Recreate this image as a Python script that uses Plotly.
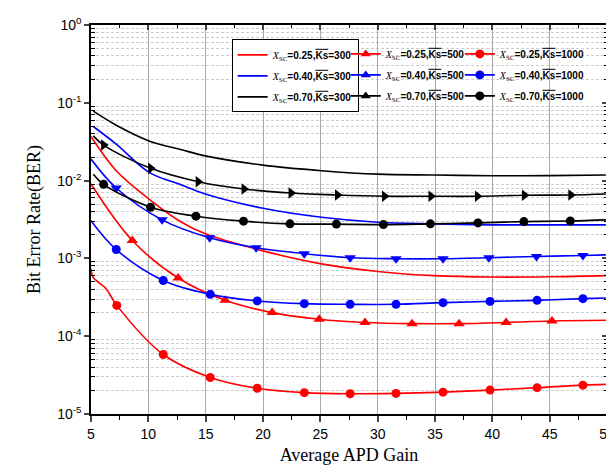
import plotly.graph_objects as go

# ---------------- data ----------------
# X_sc = 0.70
blk300_x = [5.2, 7.2, 10.06, 12.9, 14.97, 20.0, 25.1, 30.0, 35.0, 39.9, 45.0, 49.9]
blk300_y = [0.078, 0.0515, 0.0324, 0.0249, 0.0208, 0.0158, 0.0134, 0.0121, 0.0118, 0.01154, 0.0116, 0.0118]

blk500_x = [5.2, 6.1, 10.2, 14.35, 18.35, 22.45, 26.5, 30.6, 34.65, 38.7, 42.8, 46.85, 49.9]
blk500_y = [0.0376, 0.0286, 0.01436, 0.00968, 0.0078, 0.00693, 0.00653, 0.00629, 0.00629, 0.00629, 0.00648, 0.00653, 0.00673]
blk500_mx = blk500_x[1:-1]
blk500_my = blk500_y[1:-1]

blk1000_x = [5.2, 6.1, 10.2, 14.15, 18.3, 22.35, 26.4, 30.5, 34.6, 38.75, 42.75, 46.8, 49.9]
blk1000_y = [0.0121, 0.00896, 0.00455, 0.00349, 0.00301, 0.00278, 0.00276, 0.00272, 0.00278, 0.00286, 0.00297, 0.00303, 0.00313]
blk1000_mx = blk1000_x[1:-1]
blk1000_my = blk1000_y[1:-1]

# X_sc = 0.40
blu300_x = [5.2, 7.2, 10.06, 12.9, 14.97, 20.0, 25.1, 30.0, 35.0, 39.9, 45.0, 49.9]
blu300_y = [0.0496, 0.0294, 0.01277, 0.00878, 0.00673, 0.00441, 0.00338, 0.00292, 0.00278, 0.0027, 0.0027, 0.0027]

blu500_x = [5.0, 7.2, 11.2, 15.35, 19.4, 23.6, 27.6, 31.6, 35.7, 39.7, 43.85, 47.9, 49.9]
blu500_y = [0.0189, 0.00803, 0.00313, 0.00184, 0.00137, 0.00115, 0.00102, 0.00099, 0.00099, 0.00102, 0.00106, 0.00109, 0.00111]
blu500_mx = blu500_x[1:-1]
blu500_my = blu500_y[1:-1]

blu1000_x = [5.0, 7.2, 11.3, 15.4, 19.5, 23.6, 27.6, 31.6, 35.7, 39.8, 43.9, 47.9, 49.9]
blu1000_y = [0.00306, 0.0013, 0.00052, 0.000345, 0.000284, 0.000262, 0.000257, 0.000257, 0.00027, 0.00028, 0.000289, 0.000304, 0.00031]
blu1000_mx = blu1000_x[1:-1]
blu1000_my = blu1000_y[1:-1]

# X_sc = 0.25
red300_x = [5.0, 7.2, 10.06, 12.9, 14.97, 20.0, 25.1, 30.0, 35.0, 39.9, 45.0, 49.9]
red300_y = [0.0369, 0.0134, 0.0058, 0.00292, 0.00207, 0.00125, 0.00085, 0.00068, 0.0006, 0.000576, 0.00058, 0.0006]

red500_x = [5.0, 8.6, 12.6, 16.7, 20.8, 24.9, 28.9, 33.0, 37.1, 41.2, 45.2, 49.9]
red500_y = [0.00904, 0.0017, 0.00056, 0.000289, 0.000201, 0.000165, 0.00015, 0.000145, 0.000145, 0.00015, 0.000157, 0.00016]
red500_mx = red500_x[1:-1]
red500_my = red500_y[1:-1]

red1000_x = [5.0, 5.17, 5.45, 6.31, 7.25, 11.3, 15.4, 19.5, 23.6, 27.6, 31.6, 35.7, 39.8, 43.9, 47.9, 49.9]
red1000_y = [0.000736, 0.000576, 0.000521, 0.000408, 0.000249, 5.82e-05, 2.95e-05, 2.14e-05, 1.88e-05, 1.82e-05, 1.84e-05, 1.91e-05, 2.03e-05, 2.18e-05, 2.35e-05, 2.4e-05]
red1000_mx = [7.25, 11.3, 15.4, 19.5, 23.6, 27.6, 31.6, 35.7, 39.8, 43.9, 47.9]
red1000_my = [0.000249, 5.82e-05, 2.95e-05, 2.14e-05, 1.88e-05, 1.82e-05, 1.84e-05, 1.91e-05, 2.03e-05, 2.18e-05, 2.35e-05]

xsc_labels = ["0.25", "0.40", "0.70"]
ks_labels = ["300", "500", "1000"]
x_ticks = [5, 10, 15, 20, 25, 30, 35, 40, 45, 50]
y_tick_vals = [1e-5, 1e-4, 1e-3, 1e-2, 1e-1, 1e0]
y_tick_text = ["10<sup>-5</sup>", "10<sup>-4</sup>", "10<sup>-3</sup>", "10<sup>-2</sup>", "10<sup>-1</sup>", "10<sup>0</sup>"]

RED, BLUE, BLACK = "#ff0000", "#0000ff", "#000000"
LW = 1.6

fig = go.Figure()

def add_series(lx, ly, color, mx=None, my=None, symbol=None, msize=9):
    fig.add_trace(go.Scatter(x=lx, y=ly, mode="lines", line=dict(color=color, width=LW, shape="spline", smoothing=1.0),
                             showlegend=False, hoverinfo="skip"))
    if mx is not None:
        fig.add_trace(go.Scatter(x=mx, y=my, mode="markers",
                                 marker=dict(color=color, symbol=symbol, size=msize, line=dict(width=0)),
                                 showlegend=False, hoverinfo="skip"))

add_series(red300_x, red300_y, RED)
add_series(red500_x, red500_y, RED, red500_mx, red500_my, "triangle-up", 10)
add_series(red1000_x, red1000_y, RED, red1000_mx, red1000_my, "circle", 9)
add_series(blu300_x, blu300_y, BLUE)
add_series(blu500_x, blu500_y, BLUE, blu500_mx, blu500_my, "triangle-down", 10)
add_series(blu1000_x, blu1000_y, BLUE, blu1000_mx, blu1000_my, "circle", 9)
add_series(blk300_x, blk300_y, BLACK)
add_series(blk500_x, blk500_y, BLACK, blk500_mx, blk500_my, "triangle-right", 10)
add_series(blk1000_x, blk1000_y, BLACK, blk1000_mx, blk1000_my, "circle", 9)

# empty trace for the mirrored (top / right) tick axes
fig.add_trace(go.Scatter(x=[], y=[], xaxis="x2", yaxis="y2", showlegend=False, hoverinfo="skip"))

# legend entries: one legend per Ks column
def label(xsc, ks):
    return ('<span style="font-family:\'Liberation Serif\';font-weight:normal"><i>X</i>'
            '<sub>SC</sub></span>=' + xsc + ',<span style="text-decoration:overline">Ks</span>=' + ks)

colors = [RED, BLUE, BLACK]
legend_ids = ["legend", "legend2", "legend3"]
for ki, ks in enumerate(ks_labels):
    for ci, xsc in enumerate(xsc_labels):
        mode = "lines" if ki == 0 else "lines+markers"
        sym = "triangle-up" if ki == 1 else "circle"
        fig.add_trace(go.Scatter(x=[None], y=[None], mode=mode, name=label(xsc, ks),
                                 legend=legend_ids[ki], legendgroup=f"g{ki}{ci}",
                                 line=dict(color=colors[ci], width=LW),
                                 marker=dict(color=colors[ci], symbol=sym, size=9)))

minor_vals = [m * 10.0 ** e for e in range(-5, 0) for m in range(2, 10)]

leg_font = dict(family="Liberation Sans, Arial", size=10, color="black", weight="bold")
common_leg = dict(orientation="v", y=0.963, yanchor="top", xanchor="left", font=leg_font,
                  tracegroupgap=2, itemwidth=30)

fig.update_layout(
    width=614, height=468,
    margin=dict(l=83, r=7, t=15, b=62),
    plot_bgcolor="white", paper_bgcolor="white",
    font=dict(family="Liberation Sans, Arial", size=14, color="black"),
    showlegend=True,
    legend=dict(x=0.2726, bgcolor="white", bordercolor="black", borderwidth=1,
                entrywidth=308, entrywidthmode="pixels", **common_leg),
    legend2=dict(x=0.4937, bgcolor="rgba(0,0,0,0)", borderwidth=0, **common_leg),
    legend3=dict(x=0.7148, bgcolor="rgba(0,0,0,0)", borderwidth=0, **common_leg),
    xaxis=dict(
        range=[5, 50], tickvals=x_ticks, ticks="outside", ticklen=6, tickwidth=1.5,
        showline=True, linecolor="black", linewidth=1.5, mirror=True,
        showgrid=True, gridcolor="#a8a8a8", gridwidth=1, zeroline=False,
        tickfont=dict(family="Liberation Sans, Arial", size=14),
        minor=dict(dtick=2.5, tick0=5, ticks="outside", ticklen=4, tickwidth=1, tickcolor="black", showgrid=False),
        title=dict(text="Average APD Gain", font=dict(family="Liberation Serif, Times New Roman", size=18), standoff=8),
    ),
    yaxis=dict(
        type="log", range=[-5, 0], tickvals=y_tick_vals, ticktext=y_tick_text,
        ticks="outside", ticklen=5, tickwidth=1.5,
        showline=True, linecolor="black", linewidth=1.5, mirror=True,
        showgrid=False, zeroline=False,
        tickfont=dict(family="Liberation Sans, Arial", size=14),
        minor=dict(tickmode="array", tickvals=minor_vals, ticks="inside", ticklen=4, tickwidth=1, tickcolor="black",
                   showgrid=True, gridcolor="#cccccc", griddash="3px,2px", gridwidth=1),
        title=dict(text="Bit Error Rate(BER)", font=dict(family="Liberation Serif, Times New Roman", size=18), standoff=12),
    ),
    xaxis2=dict(
        overlaying="x", anchor="y2", side="top", range=[5, 50], tickvals=x_ticks, showticklabels=False,
        ticks="inside", ticklen=5, tickwidth=1.5, showgrid=False, zeroline=False, showline=False,
        minor=dict(dtick=2.5, tick0=5, ticks="inside", ticklen=3, tickwidth=1, tickcolor="black", showgrid=False),
    ),
    yaxis2=dict(
        overlaying="y", anchor="x2", side="right", type="log", range=[-5, 0], tickvals=y_tick_vals,
        showticklabels=False, ticks="inside", ticklen=5, tickwidth=1.5, showgrid=False, zeroline=False, showline=False,
        minor=dict(tickmode="array", tickvals=minor_vals, ticks="inside", ticklen=3, tickwidth=1, tickcolor="black",
                   showgrid=False),
    ),
)

fig.write_html("out.html")
